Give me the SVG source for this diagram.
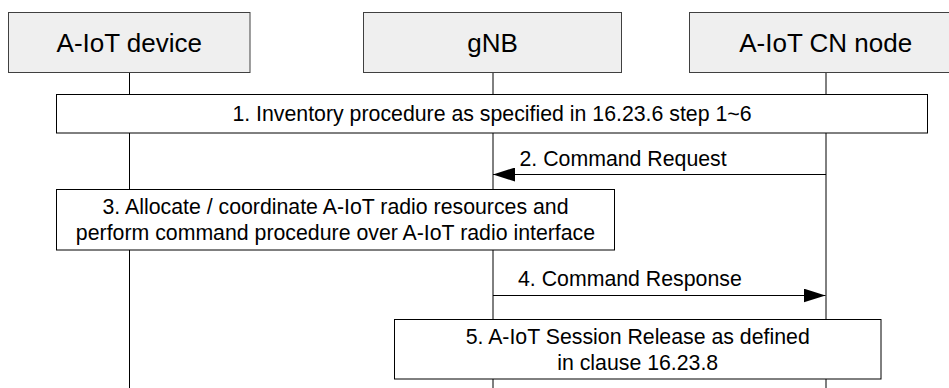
<svg xmlns="http://www.w3.org/2000/svg" width="949" height="388" viewBox="0 0 949 388">
  <style>
    text { font-family: "Liberation Sans", Arial, sans-serif; fill: #000; }
    .hdr { fill: #efefef; stroke: #404040; stroke-width: 1; }
    .hdrt { font-size: 26px; text-anchor: middle; }
    .step { fill: #ffffff; stroke: #000; stroke-width: 1; }
    .stept { font-size: 21.3px; text-anchor: middle; }
    .lbl { font-size: 21.3px; }
    .life { stroke: #000; stroke-width: 1; fill: none; }
    .msg { stroke: #000; stroke-width: 1; fill: none; }
  </style>
  <defs>
    <marker id="arrow" markerUnits="userSpaceOnUse" markerWidth="22" markerHeight="14" refX="22" refY="7" orient="auto">
      <path d="M0,0 L22,7 L0,14 Z" fill="#000"/>
    </marker>
  </defs>
  <rect width="949" height="388" fill="#ffffff"/>

  <g id="lifelines">
    <line class="life" x1="129.5" y1="72.5" x2="129.5" y2="388"/>
    <line class="life" x1="493" y1="72.5" x2="493" y2="388"/>
    <line class="life" x1="826" y1="72.5" x2="826" y2="388"/>
  </g>

  <g id="device">
    <rect class="hdr" x="8.5" y="12.5" width="241.5" height="60"/>
    <text class="hdrt" x="129.3" y="52">A-IoT device</text>
  </g>
  <g id="gnb">
    <rect class="hdr" x="363.5" y="12.5" width="258" height="60"/>
    <text class="hdrt" x="492.5" y="52">gNB</text>
  </g>
  <g id="cn">
    <rect class="hdr" x="689.5" y="12.5" width="273" height="60"/>
    <text class="hdrt" x="825.7" y="52">A-IoT CN node</text>
  </g>

  <g id="step1">
    <rect class="step" x="56.5" y="94.5" width="871" height="38.5"/>
    <text class="stept" x="492" y="121">1. Inventory procedure as specified in 16.23.6 step 1~6</text>
  </g>

  <g id="step3">
    <rect class="step" x="56.5" y="189.5" width="558" height="60.5"/>
    <text class="stept" x="335.5" y="213.5">3. Allocate / coordinate A-IoT radio resources and</text>
    <text class="stept" x="335.5" y="239.5">perform command procedure over A-IoT radio interface</text>
  </g>

  <g id="step5">
    <rect class="step" x="394.5" y="319.5" width="486.5" height="59.5"/>
    <text class="stept" x="637.7" y="343.5">5. A-IoT Session Release as defined</text>
    <text class="stept" x="637.7" y="369.5">in clause 16.23.8</text>
  </g>

  <g id="connectors">
    <line class="msg" x1="826" y1="174.5" x2="493" y2="174.5" marker-end="url(#arrow)"/>
    <text class="lbl" x="519.5" y="166">2. Command Request</text>
    <line class="msg" x1="493" y1="295.5" x2="825.5" y2="295.5" marker-end="url(#arrow)"/>
    <text class="lbl" x="518" y="286">4. Command Response</text>
  </g>
</svg>
